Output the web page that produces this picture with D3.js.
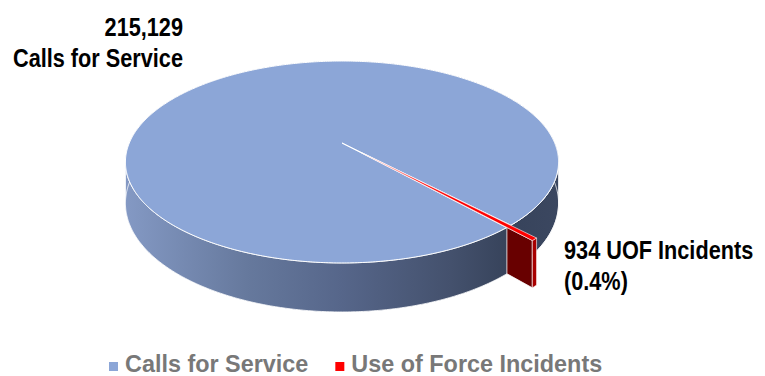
<!DOCTYPE html>
<html>
<head>
<meta charset="utf-8">
<script src="https://cdn.jsdelivr.net/npm/d3@7"></script>
<style>
  body { margin: 0; background: #fff; }
  svg { display: block; }
</style>
</head>
<body>
<svg id="chart" width="765" height="376"></svg>
<script>
// data
const categories = ["Calls for Service", "Use of Force Incidents"];
const values = [215129, 934];
const labelNames = ["Calls for Service", "UOF Incidents"];
const colors = ["#8ca6d7", "#ff0000"];

const width = 765,
    height = 376,
    cx0 = 342, cy0 = 143,      // projected pie centre
    A = 212.7, B = 97.4,       // horizontal / vertical radii
    k = 0.188,                 // perspective strength
    T = 39.8,                  // thickness
    explode = 0.13,
    rot = 138.3 * Math.PI / 180,
    narrowFont = "'Liberation Sans Narrow', 'Arial Narrow', 'Liberation Sans', Arial, sans-serif",
    wideFont = "'Liberation Sans', Arial, sans-serif";

const total = d3.sum(values);

const pie = d3.pie().sort(null).startAngle(rot).endAngle(rot + 2 * Math.PI);
const arcs = pie(values);

// 3D -> screen. angle clockwise from 12 o'clock, X right, Z toward viewer
const proj = function (X, Z, down) {
    var w = 1 - k * Z;
    return [cx0 + A * X / w, cy0 + (B * Z + (down ? T : 0)) / w];
};
const polar = function (a, r, off, down) {
    off = off || [0, 0];
    return proj(off[0] + r * Math.sin(a), off[1] - r * Math.cos(a), down);
};
const arcPoints = function (a0, a1, r, off, down) {
    var n = Math.max(2, Math.ceil(Math.abs(a1 - a0) / 0.01));
    return d3.range(n + 1).map(i => polar(a0 + (a1 - a0) * i / n, r, off, down));
};
const line = d3.line();

var svg = d3.select("#chart");
var defs = svg.append("defs");

var grad = defs.append("linearGradient")
    .attr("id", "sideGrad")
    .attr("gradientUnits", "userSpaceOnUse")
    .attr("x1", cx0 - A * 1.02).attr("x2", cx0 + A * 1.02)
    .attr("y1", 0).attr("y2", 0);
[[0, "#8499c4"], [0.28, "#66799d"], [0.5, "#56668a"], [0.75, "#44516d"],
 [0.88, "#37435b"], [1, "#3b4760"]].forEach(function (s) {
    grad.append("stop").attr("offset", s[0]).attr("stop-color", s[1]);
});

var g = svg.append("g");

var blue = arcs[0],
    red = arcs[1],
    silL = Math.acos(-k),                 // right silhouette angle
    silR = 2 * Math.PI - Math.acos(-k);   // left silhouette angle

const sidePath = function (a0, a1) {
    var top = arcPoints(a0, a1, 1),
        bottom = arcPoints(a0, a1, 1, null, true).reverse();
    return line(top.concat(bottom)) + "Z";
};

// side pieces (front half only)
[[blue.startAngle, silR], [silL, red.startAngle]].forEach(function (p) {
    g.append("path")
        .attr("d", sidePath(p[0], p[1]))
        .attr("fill", "url(#sideGrad)")
        .attr("stroke", "#fff")
        .attr("stroke-width", 0.8)
        .attr("stroke-linejoin", "round");
});

// blue top
g.append("path")
    .attr("d", line([proj(0, 0)].concat(arcPoints(blue.startAngle, blue.endAngle, 1))) + "Z")
    .attr("fill", colors[0])
    .attr("stroke", "#fff")
    .attr("stroke-width", 1)
    .attr("stroke-linejoin", "round");

// red slice (exploded)
var mid = (red.startAngle + red.endAngle) / 2,
    off = [explode * Math.sin(mid), -explode * Math.cos(mid)],
    c = Math.cos(red.endAngle - mid),
    r1 = -explode * c + Math.sqrt(explode * explode * c * c - explode * explode + 1);

// radial cut face that faces the viewer
g.append("path")
    .attr("d", line([
        polar(red.endAngle, r1, off), polar(red.endAngle, 1, off),
        polar(red.endAngle, 1, off, true), polar(red.endAngle, r1, off, true)
    ]) + "Z")
    .attr("fill", "#680000")
    .attr("stroke", "#fff")
    .attr("stroke-width", 0.8)
    .attr("stroke-linejoin", "round");

// outer curved side
g.append("path")
    .attr("d", line(arcPoints(red.startAngle, red.endAngle, 1, off)
        .concat(arcPoints(red.startAngle, red.endAngle, 1, off, true).reverse())) + "Z")
    .attr("fill", "#a80000")
    .attr("stroke", "#fff")
    .attr("stroke-width", 0.6);

// red top
g.append("path")
    .attr("d", line([polar(0, 0, off)].concat(arcPoints(red.startAngle, red.endAngle, 1, off))) + "Z")
    .attr("fill", colors[1])
    .attr("stroke", "#fff")
    .attr("stroke-width", 0.6)
    .attr("stroke-linejoin", "round");

// data labels
var labelG = svg.append("g")
    .attr("font-family", narrowFont)
    .attr("font-weight", "bold")
    .attr("font-size", 26)
    .attr("fill", "#000");

var probe = labelG.append("text").text(labelNames[0]);
var squeeze = Math.min(1, 170 / probe.node().getComputedTextLength());
probe.remove();

const addLabel = function (lines, x, y, anchor) {
    lines.forEach(function (s, i) {
        var ts = labelG.append("text")
            .attr("x", x)
            .attr("y", y + i * 31)
            .attr("text-anchor", anchor)
            .text(s);
        if (squeeze < 1) {
            ts.attr("textLength", ts.node().getComputedTextLength() * squeeze)
                .attr("lengthAdjust", "spacingAndGlyphs");
        }
    });
};

addLabel([d3.format(",")(values[0]), labelNames[0]], 183, 36, "end");
addLabel([values[1] + " " + labelNames[1], "(" + d3.format(".1%")(values[1] / total) + ")"], 564, 259, "start");

// legend
var legend = svg.append("g")
    .attr("font-family", wideFont)
    .attr("font-weight", "bold")
    .attr("font-size", 23.4)
    .attr("fill", "#787878");

var lx = 109;
categories.forEach(function (cat, i) {
    legend.append("rect")
        .attr("x", lx).attr("y", 362)
        .attr("width", 9).attr("height", 9)
        .attr("fill", colors[i]);
    var t = legend.append("text")
        .attr("x", lx + 16)
        .attr("y", 372)
        .text(cat);
    lx += 16 + t.node().getComputedTextLength() + 27;
});
</script>
</body>
</html>
